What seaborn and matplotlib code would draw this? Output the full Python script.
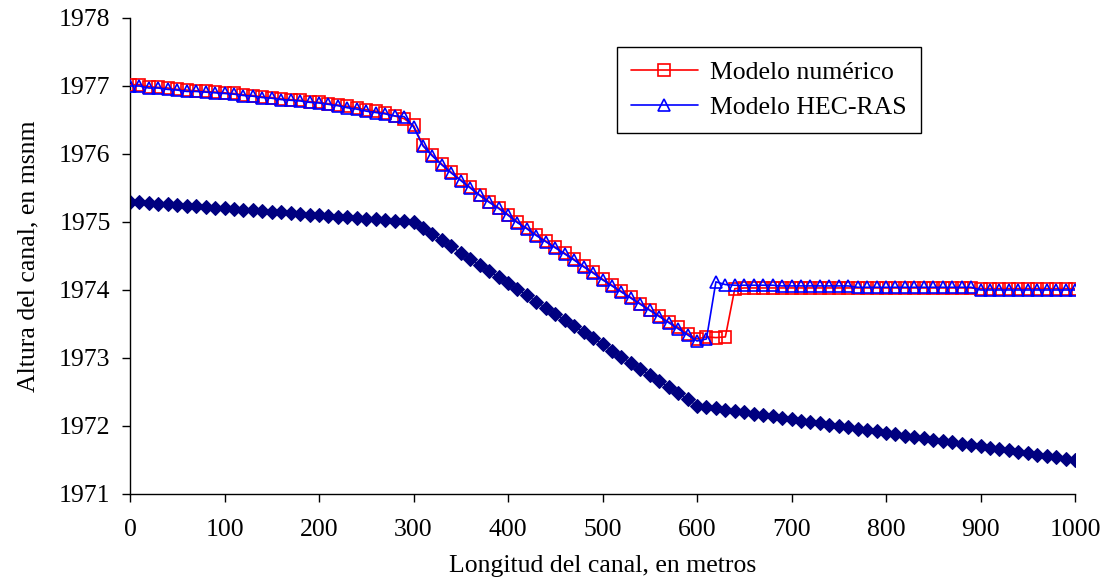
import numpy as np
import pandas as pd
import seaborn as sns
import matplotlib
matplotlib.use("Agg")
import matplotlib.pyplot as plt

# Distance along the channel (m)
distancia = list(range(0, 1001, 10))

# Channel bed elevation (msnm)
fondo = [
    1975.30, 1975.29, 1975.28, 1975.27, 1975.26, 1975.25, 1975.24, 1975.23, 1975.22, 1975.21,
    1975.20, 1975.19, 1975.18, 1975.17, 1975.16, 1975.15, 1975.14, 1975.13, 1975.12, 1975.11,
    1975.10, 1975.09, 1975.08, 1975.07, 1975.06, 1975.05, 1975.04, 1975.03, 1975.02, 1975.01,
    1975.00,
    1974.91, 1974.82, 1974.73, 1974.64, 1974.55, 1974.46, 1974.37, 1974.28, 1974.19, 1974.10,
    1974.01, 1973.92, 1973.83, 1973.74, 1973.65, 1973.56, 1973.47, 1973.38, 1973.29, 1973.20,
    1973.11, 1973.02, 1972.93, 1972.84, 1972.75, 1972.66, 1972.57, 1972.48, 1972.39, 1972.30,
    1972.28, 1972.26, 1972.24, 1972.22, 1972.20, 1972.18, 1972.16, 1972.14, 1972.12, 1972.10,
    1972.08, 1972.06, 1972.04, 1972.02, 1972.00, 1971.98, 1971.96, 1971.94, 1971.92, 1971.90,
    1971.88, 1971.86, 1971.84, 1971.82, 1971.80, 1971.78, 1971.76, 1971.74, 1971.72, 1971.70,
    1971.68, 1971.66, 1971.64, 1971.62, 1971.60, 1971.58, 1971.56, 1971.54, 1971.52, 1971.50,
]

# Water surface - numerical model
numerico = [
    1977.02, 1977.02, 1976.99, 1976.98, 1976.97, 1976.95, 1976.94, 1976.93, 1976.92, 1976.91,
    1976.90, 1976.89, 1976.87, 1976.86, 1976.84, 1976.83, 1976.81, 1976.80, 1976.79, 1976.77,
    1976.76, 1976.74, 1976.72, 1976.70, 1976.68, 1976.65, 1976.63, 1976.60, 1976.56, 1976.52,
    1976.42,
    1976.13, 1975.98, 1975.85, 1975.73, 1975.62, 1975.51, 1975.40, 1975.30, 1975.21, 1975.11,
    1975.00, 1974.91, 1974.81, 1974.72, 1974.63, 1974.54, 1974.45, 1974.35, 1974.26, 1974.16,
    1974.07, 1973.98, 1973.89, 1973.80, 1973.71, 1973.62, 1973.53, 1973.45, 1973.36, 1973.28,
    1973.31, 1973.30, 1973.31, 1974.02,
    1974.03, 1974.03, 1974.03, 1974.03, 1974.03, 1974.03, 1974.03, 1974.03, 1974.03, 1974.03,
    1974.03, 1974.03, 1974.03, 1974.03, 1974.03, 1974.03, 1974.03, 1974.03, 1974.03, 1974.03,
    1974.03, 1974.03, 1974.03, 1974.03, 1974.03,
    1974.02, 1974.02, 1974.02, 1974.02, 1974.02, 1974.02, 1974.02, 1974.02, 1974.02, 1974.02,
    1974.02,
]

# Water surface - HEC-RAS model
hecras = [
    1977.00, 1977.00, 1976.97, 1976.97, 1976.95, 1976.94, 1976.92, 1976.92, 1976.91, 1976.90,
    1976.89, 1976.88, 1976.86, 1976.85, 1976.83, 1976.82, 1976.80, 1976.79, 1976.78, 1976.76,
    1976.75, 1976.73, 1976.71, 1976.68, 1976.66, 1976.63, 1976.61, 1976.59, 1976.56, 1976.55,
    1976.40,
    1976.12, 1975.97, 1975.84, 1975.72, 1975.61, 1975.50, 1975.39, 1975.29, 1975.20, 1975.10,
    1974.99, 1974.90, 1974.80, 1974.71, 1974.62, 1974.53, 1974.44, 1974.34, 1974.25, 1974.15,
    1974.06, 1973.97, 1973.88, 1973.79, 1973.70, 1973.61, 1973.52, 1973.43, 1973.34, 1973.25,
    1973.28, 1974.12, 1974.08,
    1974.07, 1974.07, 1974.07, 1974.07, 1974.07,
    1974.06, 1974.06, 1974.06, 1974.06, 1974.06, 1974.06, 1974.06, 1974.06,
    1974.04, 1974.04, 1974.04, 1974.04, 1974.04, 1974.04, 1974.04, 1974.04, 1974.04, 1974.04,
    1974.04, 1974.04, 1974.04,
    1974.00, 1974.00, 1974.00, 1974.00, 1974.00, 1974.00, 1974.00, 1974.00, 1974.00, 1974.00,
    1974.00,
]

x_ticks = [0, 100, 200, 300, 400, 500, 600, 700, 800, 900, 1000]
y_ticks = [1971, 1972, 1973, 1974, 1975, 1976, 1977, 1978]

sns.set_style("white")
plt.rcParams["font.family"] = ["Liberation Serif", "DejaVu Serif"]
plt.rcParams["text.color"] = "black"
plt.rcParams["axes.labelcolor"] = "black"
plt.rcParams["xtick.color"] = "black"
plt.rcParams["ytick.color"] = "black"
FS = 18.5

df = pd.DataFrame({"x": distancia, "fondo": fondo, "num": numerico, "hec": hecras})

fig = plt.figure(figsize=(11.07, 5.83), dpi=100)
ax = fig.add_axes([130 / 1107, 1 - 494 / 583, 945 / 1107, 476 / 583])

sns.lineplot(data=df, x="x", y="fondo", ax=ax, color="#000080", marker="D",
             markersize=7.5, markeredgecolor="#000080", markerfacecolor="#000080",
             linewidth=1, zorder=2)
sns.lineplot(data=df, x="x", y="num", ax=ax, color="#FF0000", marker="s",
             markersize=8.5, markerfacecolor="none", markeredgecolor="#FF0000",
             markeredgewidth=1.2, linewidth=1.2, zorder=3, label="Modelo numérico")
sns.lineplot(data=df, x="x", y="hec", ax=ax, color="#0000FF", marker="^",
             markersize=9, markerfacecolor="none", markeredgecolor="#0000FF",
             markeredgewidth=1.2, linewidth=1.2, zorder=4, label="Modelo HEC-RAS")

ax.set_xlim(0, 1000)
ax.set_ylim(1971, 1978)
ax.set_xticks(x_ticks)
ax.set_yticks(y_ticks)
ax.set_xticklabels([str(t) for t in x_ticks], fontsize=FS)
ax.set_yticklabels([str(t) for t in y_ticks], fontsize=FS)
ax.tick_params(axis="both", direction="out", length=6, width=1, color="black",
               labelcolor="black", bottom=True, left=True)
ax.tick_params(axis="x", pad=12)
ax.tick_params(axis="y", pad=8)
ax.set_xlabel("Longitud del canal, en metros", fontsize=FS, labelpad=10, color="black")
ax.set_ylabel("Altura del canal, en msnm", fontsize=FS, labelpad=14, color="black")

for side in ["top", "right"]:
    ax.spines[side].set_visible(False)
for side in ["left", "bottom"]:
    ax.spines[side].set_color("black")
    ax.spines[side].set_linewidth(1)

leg = ax.legend(loc="upper left", bbox_to_anchor=(0.515, 0.939), fontsize=FS,
                frameon=True, fancybox=False, edgecolor="black", framealpha=1,
                handlelength=2.6, borderpad=0.55, labelspacing=0.45, borderaxespad=0,
                handletextpad=0.5)
leg.get_frame().set_linewidth(1)
for t in leg.get_texts():
    t.set_color("black")

fig.savefig("out.png", dpi=100)
